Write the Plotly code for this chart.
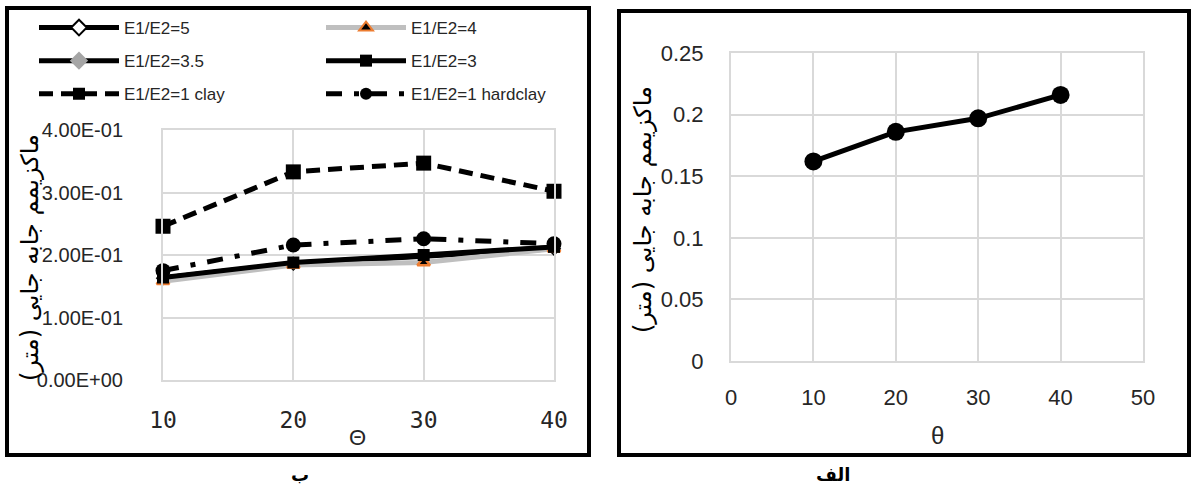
import plotly.graph_objects as go

# ---- data ----
theta = [10, 20, 30, 40]
e5 = [0.163, 0.186, 0.198, 0.210]
e4 = [0.158, 0.184, 0.188, 0.210]
e35 = [0.163, 0.187, 0.199, 0.212]
e3 = [0.164, 0.188, 0.200, 0.213]
e1_clay = [0.246, 0.333, 0.347, 0.302]
e1_hard = [0.175, 0.216, 0.226, 0.218]

right_y = [0.162, 0.186, 0.197, 0.216]

left_yticks = [0, 0.1, 0.2, 0.3, 0.4]
left_yticktext = ["0.00E+00", "1.00E-01", "2.00E-01", "3.00E-01", "4.00E-01"]
left_xticks = [10, 20, 30, 40]
right_xticks = [0, 10, 20, 30, 40, 50]
right_yticks = [0, 0.05, 0.1, 0.15, 0.2, 0.25]

ytitle = "ماکزیمم جابه جایی (متر)"
xtitle_left = "Θ"
xtitle_right = "θ"
cap_left = "ب"
cap_right = "الف"

W, H = 1192, 494
def px(x):
    return x / W
def py(y):
    return 1 - y / H

fig = go.Figure()

BLACK = "#000000"
common = dict(xaxis="x", yaxis="y", mode="lines+markers", cliponaxis=False)

fig.add_trace(go.Scatter(x=theta, y=e5, name="E1/E2=5", legend="legend", legendgroup="a",
                         line=dict(color=BLACK, width=5),
                         marker=dict(symbol="diamond", size=9, color="white", line=dict(color=BLACK, width=2)),
                         **common))
fig.add_trace(go.Scatter(x=theta, y=e35, name="E1/E2=3.5", legend="legend", legendgroup="b",
                         line=dict(color=BLACK, width=5),
                         marker=dict(symbol="diamond", size=9, color="#a5a5a5", line=dict(color="#a5a5a5", width=1)),
                         **common))
fig.add_trace(go.Scatter(x=theta, y=e1_clay, name="E1/E2=1 clay", legend="legend", legendgroup="c",
                         line=dict(color=BLACK, width=5, dash="14px,8px"),
                         marker=dict(symbol="square", size=15, color=BLACK),
                         **common))
fig.add_trace(go.Scatter(x=theta, y=e4, name="E1/E2=4", legend="legend2", legendgroup="d",
                         line=dict(color="#bfbfbf", width=5),
                         marker=dict(symbol="triangle-up", size=11, color=BLACK, line=dict(color="#ed7d31", width=2.5)),
                         **common))
fig.add_trace(go.Scatter(x=theta, y=e3, name="E1/E2=3", legend="legend2", legendgroup="e",
                         line=dict(color=BLACK, width=5),
                         marker=dict(symbol="square", size=12, color=BLACK),
                         **common))
fig.add_trace(go.Scatter(x=theta, y=e1_hard, name="E1/E2=1 hardclay", legend="legend2", legendgroup="f",
                         line=dict(color=BLACK, width=5, dash="16px,12px,5px,12px"),
                         marker=dict(symbol="circle", size=15, color=BLACK),
                         **common))

# right chart
fig.add_trace(go.Scatter(x=theta, y=right_y, xaxis="x2", yaxis="y2", mode="lines+markers",
                         showlegend=False, cliponaxis=False,
                         line=dict(color=BLACK, width=5),
                         marker=dict(symbol="circle", size=18, color=BLACK)))

GRID = "#d9d9d9"
TICKC = "#262626"
FONT = "Liberation Sans, Arial, sans-serif"
PFONT = "DejaVu Sans, sans-serif"

ax_common = dict(showgrid=True, gridcolor=GRID, gridwidth=2, zeroline=False,
                 showline=True, mirror=True, linecolor=GRID, linewidth=2,
                 ticks="outside", tickcolor="rgba(0,0,0,0)", automargin=False, fixedrange=True)

def ann(text, x, y, size, family=FONT, color=TICKC, angle=0):
    return dict(text=text, xref="paper", yref="paper", x=px(x), y=py(y),
                xanchor="center", yanchor="middle", showarrow=False, textangle=angle,
                font=dict(size=size, color=color, family=family))

fig.update_layout(
    template="none",
    width=W, height=H,
    margin=dict(l=0, r=0, t=0, b=0, pad=0),
    paper_bgcolor="white", plot_bgcolor="white",
    font=dict(family=FONT, color=TICKC),
    xaxis=dict(domain=[px(163), px(554)], range=[10, 40], tickvals=left_xticks, ticklen=18,
               tickfont=dict(family="DejaVu Sans Mono, Liberation Mono, monospace", size=23, color=TICKC),
               anchor="y", **ax_common),
    yaxis=dict(domain=[py(380), py(130)], range=[0, 0.4], tickvals=left_yticks, ticktext=left_yticktext,
               ticklen=34, tickfont=dict(size=20, color=TICKC),
               anchor="x", **ax_common),
    xaxis2=dict(domain=[px(731), px(1143)], range=[0, 50], tickvals=right_xticks, ticklen=16,
                tickfont=dict(size=22, color=TICKC),
                anchor="y2", **ax_common),
    yaxis2=dict(domain=[py(361), py(53)], range=[0, 0.25], tickvals=right_yticks, ticklen=21,
                tickfont=dict(size=22, color=TICKC),
                anchor="x2", **ax_common),
    legend=dict(x=px(34), y=py(10), xanchor="left", yanchor="top", bgcolor="rgba(0,0,0,0)",
                font=dict(size=17, color=TICKC), itemwidth=80, tracegroupgap=8, itemsizing="constant"),
    legend2=dict(x=px(321), y=py(10), xanchor="left", yanchor="top", bgcolor="rgba(0,0,0,0)",
                 font=dict(size=17, color=TICKC), itemwidth=80, tracegroupgap=8, itemsizing="constant"),
    shapes=[
        dict(type="rect", xref="paper", yref="paper", x0=px(7), x1=px(589), y0=py(455), y1=py(8),
             line=dict(color=BLACK, width=4)),
        dict(type="rect", xref="paper", yref="paper", x0=px(619), x1=px(1189), y0=py(455), y1=py(11),
             line=dict(color=BLACK, width=4)),
    ],
    annotations=[
        ann(ytitle, 30, 258, 24, PFONT, BLACK, -90),
        ann(ytitle, 643, 210, 24, PFONT, BLACK, -90),
        ann(xtitle_left, 357, 437, 22),
        ann(xtitle_right, 937, 435, 24),
        ann("<b>" + cap_left + "</b>", 300, 474, 18, PFONT, BLACK),
        ann("<b>" + cap_right + "</b>", 833, 474, 18, PFONT, BLACK),
    ],
)

fig.write_html("out.html")
